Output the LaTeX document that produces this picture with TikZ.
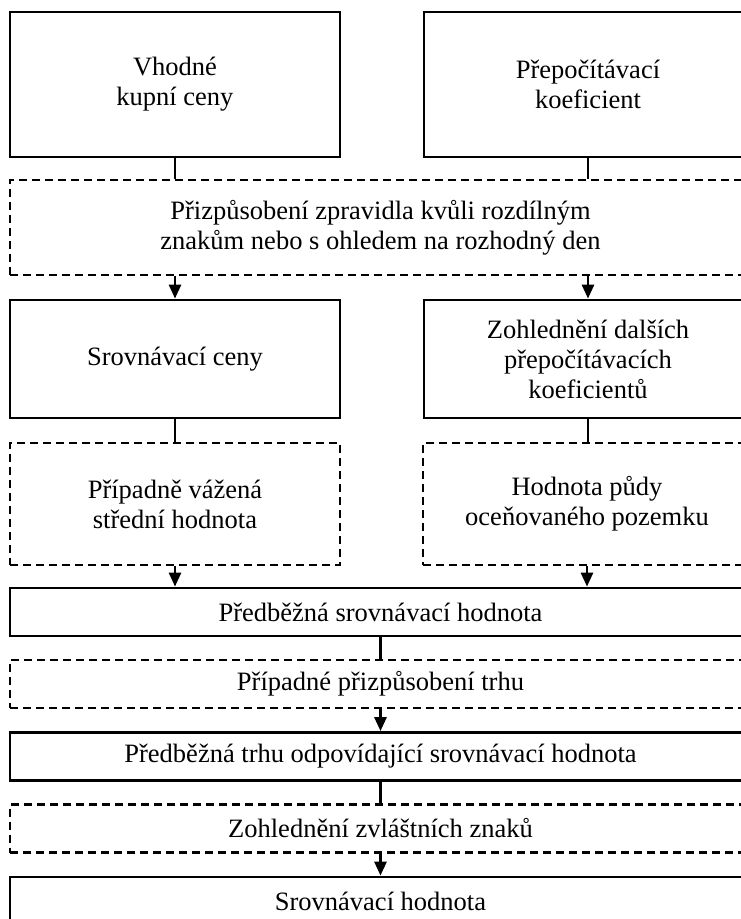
\documentclass[tikz,border=0pt]{standalone}
\usepackage{fontspec}
\setmainfont{Liberation Serif}
\usetikzlibrary{positioning,arrows.meta}

\begin{document}
\begin{tikzpicture}[
  x=1pt, y=-1pt,
  font=\fontsize{26.5}{30}\selectfont,
  >={Triangle[length=14pt,width=12pt]},
  basebox/.style={
    rectangle, draw=black, line width=2.8pt,
    align=center, inner sep=4pt,
  },
  solidbox/.style={basebox},
  dashbox/.style={basebox, dash pattern=on 8pt off 5pt},
  leftbox/.style={minimum width=330pt},
  rightbox/.style={minimum width=328pt},
  widebox/.style={minimum width=741pt},
  link/.style={draw=black, line width=2.8pt},
  arr/.style={link, ->},
]
\useasboundingbox (0,0) rectangle (741,919);
\clip (0,0) rectangle (741,919);

%---------- top row ----------
\node[solidbox, leftbox, minimum height=145pt] (kupni) at (175,84.5)
  {Vhodné\\kupní ceny};
\node[solidbox, rightbox, minimum height=145pt] (koef) at (588,84.5)
  {Přepočítávací\\koeficient};

%---------- adjustment ----------
\node[dashbox, widebox, minimum height=95pt] (prizp) at (380.5,227.5)
  {Přizpůsobení zpravidla kvůli rozdílným\\znakům nebo s ohledem na rozhodný den};

%---------- second row ----------
\node[solidbox, leftbox, minimum height=118pt] (srovceny) at (175,359)
  {Srovnávací ceny};
\node[solidbox, rightbox, minimum height=118pt] (dalsi) at (588,359)
  {Zohlednění dalších\\přepočítávacích\\koeficientů};

%---------- third row (dashed) ----------
\node[dashbox, leftbox, minimum height=122pt] (vazena) at (175,504)
  {Případně vážená\\střední hodnota};
\node[dashbox, rightbox, minimum height=122pt] (puda) at (587,504)
  {Hodnota půdy\\oceňovaného pozemku};

%---------- bottom column ----------
\node[solidbox, widebox, minimum height=48pt] (predb) at (380.5,612)
  {Předběžná srovnávací hodnota};
\node[dashbox, widebox, minimum height=48pt] (trh) at (380.5,684)
  {Případné přizpůsobení trhu};
\node[solidbox, widebox, minimum height=48pt] (predbtrh) at (380.5,756.5)
  {Předběžná trhu odpovídající srovnávací hodnota};
\node[dashbox, widebox, minimum height=48pt] (zvlast) at (380.5,828.5)
  {Zohlednění zvláštních znaků};
\node[solidbox, widebox, minimum height=48pt] (hodnota) at (380.5,901)
  {Srovnávací hodnota};

%---------- connectors ----------
\draw[link] (kupni.south) -- (kupni.south |- prizp.north);
\draw[link] (koef.south) -- (koef.south |- prizp.north);
\draw[arr] (srovceny.north |- prizp.south) -- (srovceny.north);
\draw[arr] (dalsi.north |- prizp.south) -- (dalsi.north);
\draw[link] (srovceny.south) -- (vazena.north);
\draw[link] (dalsi.south) -- (dalsi.south |- puda.north);
\draw[arr] (vazena.south) -- (vazena.south |- predb.north);
\draw[arr] (puda.south) -- (puda.south |- predb.north);
\draw[link] (predb.south) -- (trh.north);
\draw[arr] (trh.south) -- (predbtrh.north);
\draw[link] (predbtrh.south) -- (zvlast.north);
\draw[arr] (zvlast.south) -- (hodnota.north);

\end{tikzpicture}
\end{document}
